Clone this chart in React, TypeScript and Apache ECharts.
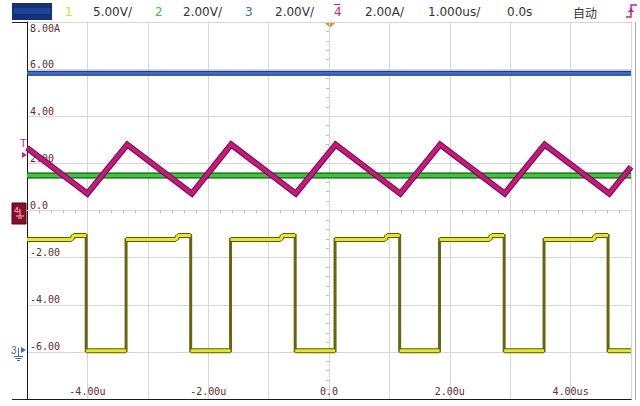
import React, { useEffect, useRef } from 'react';
import * as echarts from 'echarts';

// Axis tick labels
const xTickValues = [-4, -2, 0, 2, 4];
const xTickLabels = ['-4.00u', '-2.00u', '0.0', '2.00u', '4.00us'];
const yTickValues = [8, 6, 4, 2, 0, -2, -4, -6];
const yTickLabels = ['8.00A', '6.00', '4.00', '2.00', '0.0', '-2.00', '-4.00', '-6.00'];

// Channel 1 (yellow) switching node, time in us, value in divisions-scale units
const ch1Time = [-5, -4.26, -4.23, -4.02, -4.02, -3.36, -3.36, -2.53, -2.5, -2.29, -2.29, -1.63, -1.63, -0.8, -0.77, -0.56, -0.56, 0.1, 0.1, 0.93, 0.96, 1.17, 1.17, 1.83, 1.83, 2.66, 2.69, 2.9, 2.9, 3.56, 3.56, 4.38, 4.41, 4.62, 4.62, 5];
const ch1Value = [-1.23, -1.23, -1.06, -1.06, -5.95, -5.95, -1.23, -1.23, -1.06, -1.06, -5.95, -5.95, -1.23, -1.23, -1.06, -1.06, -5.95, -5.95, -1.23, -1.23, -1.06, -1.06, -5.95, -5.95, -1.23, -1.23, -1.06, -1.06, -5.95, -5.95, -1.23, -1.23, -1.06, -1.06, -5.95, -5.95];

// Channel 2 (green) and channel 3 (blue) flat traces
const ch2Time = [-5, 5];
const ch2Value = [1.49, 1.49];
const ch3Time = [-5, 5];
const ch3Value = [5.82, 5.82];

// Channel 4 (magenta) inductor current triangle
const ch4Time = [-5, -4.0, -3.34, -2.27, -1.62, -0.55, 0.11, 1.18, 1.84, 2.91, 3.57, 4.64, 5];
const ch4Value = [2.66, 0.72, 2.8, 0.72, 2.8, 0.72, 2.8, 0.72, 2.8, 0.72, 2.8, 0.72, 1.85];

const zip = (a: number[], b: number[]) => a.map((t, i) => [t, b[i]]);

// only the non-vertical segments, separated by gaps
const nonVertical = (a: number[], b: number[]) => {
  const out: any[] = [];
  for (let i = 0; i < a.length - 1; i++) {
    if (a[i + 1] - a[i] > 0.001) {
      out.push([a[i], b[i]], [a[i + 1], b[i + 1]], null);
    }
  }
  return out;
};

const MONO = 'DejaVu Sans Mono';
const SANS = 'DejaVu Sans';

function line(name: string, data: any[], color: string, width: number, z: number) {
  return {
    name, type: 'line', data, symbol: 'none', xAxisIndex: 0, yAxisIndex: 0, z, connectNulls: false,
    lineStyle: { color, width, join: 'miter' }, silent: true,
  };
}

function traceSeries(name: string, data: number[][], dark: string, light: string, wDark: number, wLight: number, z: number) {
  return [line(name + '-edge', data, dark, wDark, z), line(name, data, light, wLight, z + 0.5)];
}

function hText(text: string, x: number, color: string, size = 12, family = SANS) {
  return {
    type: 'text', x, y: 12, silent: true,
    style: { text, fill: color, font: `${size}px "${family}"`, fontSize: size, fontFamily: family, verticalAlign: 'middle', textVerticalAlign: 'middle' },
  };
}

export default function App() {
  const ref = useRef<HTMLDivElement>(null);
  useEffect(() => {
    if (!ref.current) return;
    const chart = echarts.init(ref.current, undefined, { renderer: 'svg' });
    const labelColor = '#5e2c2c';
    const gridColor = '#d6d6d6';
    const ch1All = zip(ch1Time, ch1Value);
    const ch1Flat = nonVertical(ch1Time, ch1Value);
    chart.setOption({
      animation: false,
      backgroundColor: '#ffffff',
      grid: { left: 27, right: 9, top: 22, bottom: 7 },
      xAxis: [
        {
          type: 'value', min: -5, max: 5, interval: 1, position: 'bottom',
          axisLine: { show: true, onZero: false, lineStyle: { color: '#1a1a1a', width: 1 } },
          axisTick: { show: false },
          splitLine: { show: true, lineStyle: { color: gridColor, width: 1 } },
          axisLabel: {
            inside: true, margin: 3, verticalAlign: 'bottom', color: labelColor,
            fontFamily: MONO, fontSize: 10,
            formatter: (v: number) => {
              const i = xTickValues.indexOf(Math.round(v));
              return i >= 0 && Math.abs(v - Math.round(v)) < 1e-6 ? xTickLabels[i] : '';
            },
          },
        },
        {
          type: 'value', min: -5, max: 5, interval: 1, position: 'bottom',
          axisLine: { show: true, onZero: true, onZeroAxisIndex: 0, lineStyle: { color: gridColor, width: 1 } },
          axisTick: { show: false },
          minorTick: { show: true, splitNumber: 5, length: 3, lineStyle: { color: '#bdbdbd' } },
          splitLine: { show: false },
          axisLabel: { show: false },
        },
      ],
      yAxis: [
        {
          type: 'value', min: -8, max: 8, interval: 2, position: 'left',
          axisLine: { show: true, onZero: false, lineStyle: { color: '#1a1a1a', width: 1 } },
          axisTick: { show: false },
          splitLine: { show: true, lineStyle: { color: gridColor, width: 1 } },
          axisLabel: {
            inside: true, margin: 3, align: 'left', verticalAlign: 'middle',
            color: labelColor, fontFamily: MONO, fontSize: 10,
            formatter: (v: number) => {
              const i = yTickValues.indexOf(Math.round(v));
              if (i < 0) return '';
              return v === 8 ? `{t|${yTickLabels[i]}}` : `{n|${yTickLabels[i]}}`;
            },
            rich: {
              t: { padding: [12, 0, 0, 0], color: labelColor, fontFamily: MONO, fontSize: 10 },
              n: { padding: [0, 0, 10, 0], color: labelColor, fontFamily: MONO, fontSize: 10 },
            },
          },
        },
        {
          type: 'value', min: -8, max: 8, interval: 2, position: 'left',
          axisLine: { show: true, onZero: true, onZeroAxisIndex: 0, lineStyle: { color: gridColor, width: 1 } },
          axisTick: { show: false },
          minorTick: { show: true, splitNumber: 5, length: 3, lineStyle: { color: '#bdbdbd' } },
          splitLine: { show: false },
          axisLabel: { show: false },
        },
      ],
      series: [
        ...traceSeries('CH3', zip(ch3Time, ch3Value), '#1b2c66', '#3a6bd4', 5, 3, 2),
        ...traceSeries('CH2', zip(ch2Time, ch2Value), '#0d3d0d', '#34cc34', 6, 4, 3),
        ...traceSeries('CH4', zip(ch4Time, ch4Value), '#6e0b47', '#c8187f', 6, 4, 4),
        line('CH1-edge', ch1All, '#66660e', 3, 5),
        line('CH1-flat-edge', ch1Flat, '#5a5a08', 5, 5.2),
        line('CH1', ch1Flat, '#e8e81c', 3, 5.5),
      ],
      graphic: [
        // header
        { type: 'rect', silent: true, shape: { x: 12, y: 3, width: 40, height: 17 }, style: { fill: '#12307e' } },
        { type: 'rect', silent: true, shape: { x: 14, y: 8, width: 36, height: 6 }, style: { fill: '#1e4496' } },
        hText('1', 65, '#d9d92e'),
        hText('5.00V/', 93, '#333333'),
        hText('2', 155, '#3cbf3c'),
        hText('2.00V/', 183, '#333333'),
        hText('3', 245, '#4466c4'),
        hText('2.00V/', 275, '#333333'),
        hText('4', 334, '#cc2288'),
        { type: 'line', silent: true, shape: { x1: 334, y1: 4.5, x2: 340, y2: 4.5 }, style: { stroke: '#cc2288', lineWidth: 1 } },
        hText('2.00A/', 365, '#333333'),
        hText('1.000us/', 428, '#333333'),
        hText('0.0s', 507, '#333333'),
        hText('自动', 573, '#333333', 12, 'Noto Sans CJK SC'),
        { type: 'polyline', silent: true, shape: { points: [[626, 17], [631, 17], [631, 5], [637, 5]] }, style: { stroke: '#cc2288', lineWidth: 1.5, fill: null } },
        { type: 'polygon', silent: true, shape: { points: [[628, 12], [631, 8], [634, 12]] }, style: { fill: '#cc2288' } },
        // frame
        { type: 'line', silent: true, shape: { x1: 12, y1: 22.5, x2: 632, y2: 22.5 }, style: { stroke: '#222222', lineWidth: 1 } },
        { type: 'line', silent: true, shape: { x1: 12, y1: 399.5, x2: 632, y2: 399.5 }, style: { stroke: '#222222', lineWidth: 1 } },
        { type: 'line', silent: true, shape: { x1: 631.5, y1: 22, x2: 631.5, y2: 400 }, style: { stroke: '#a8a8a8', lineWidth: 1 } },
        { type: 'line', silent: true, shape: { x1: 635.5, y1: 22, x2: 635.5, y2: 400 }, style: { stroke: '#a8a8a8', lineWidth: 1 } },
        // trigger position marker
        { type: 'polygon', silent: true, shape: { points: [[325, 23], [335, 23], [330, 28]] }, style: { fill: '#e8901e' } },
        // trigger level marker
        { type: 'text', silent: true, x: 20, y: 143, style: { text: 'T', fill: '#cc2288', font: '11px "DejaVu Sans"', fontSize: 11, verticalAlign: 'middle', textVerticalAlign: 'middle' } },
        { type: 'polygon', silent: true, shape: { points: [[22, 152], [27, 155], [22, 158]] }, style: { fill: '#cc2288' } },
        // ch4 ground marker
        { type: 'rect', silent: true, shape: { x: 12, y: 203, width: 14, height: 21 }, style: { fill: '#8a0c2c', stroke: '#5a0018' } },
        { type: 'text', silent: true, x: 14, y: 210, style: { text: '4', fill: '#f0c8d0', font: '9px "DejaVu Sans"', fontSize: 9, verticalAlign: 'middle', textVerticalAlign: 'middle' } },
        { type: 'line', silent: true, shape: { x1: 20, y1: 209, x2: 20, y2: 216 }, style: { stroke: '#f0c8d0', lineWidth: 1 } },
        { type: 'line', silent: true, shape: { x1: 16, y1: 216, x2: 24, y2: 216 }, style: { stroke: '#f0c8d0', lineWidth: 1 } },
        { type: 'line', silent: true, shape: { x1: 18, y1: 218, x2: 22, y2: 218 }, style: { stroke: '#f0c8d0', lineWidth: 1 } },
        // ch3 ground marker
        { type: 'text', silent: true, x: 11, y: 350, style: { text: '3', fill: '#4466c4', font: '10px "DejaVu Sans"', fontSize: 10, verticalAlign: 'middle', textVerticalAlign: 'middle' } },
        { type: 'polygon', silent: true, shape: { points: [[21, 347], [26, 350], [21, 353]] }, style: { fill: '#3a6bd4' } },
        { type: 'line', silent: true, shape: { x1: 18.5, y1: 348, x2: 18.5, y2: 356 }, style: { stroke: '#4466c4', lineWidth: 1 } },
        { type: 'line', silent: true, shape: { x1: 14, y1: 356.5, x2: 23, y2: 356.5 }, style: { stroke: '#4466c4', lineWidth: 1 } },
        { type: 'line', silent: true, shape: { x1: 15.5, y1: 358.5, x2: 21.5, y2: 358.5 }, style: { stroke: '#4466c4', lineWidth: 1 } },
        { type: 'line', silent: true, shape: { x1: 17, y1: 360.5, x2: 20, y2: 360.5 }, style: { stroke: '#4466c4', lineWidth: 1 } },
      ],
    });
    return () => chart.dispose();
  }, []);
  return <div ref={ref} style={{ position: 'fixed', left: 0, top: 0, width: 640, height: 406 }} />;
}
